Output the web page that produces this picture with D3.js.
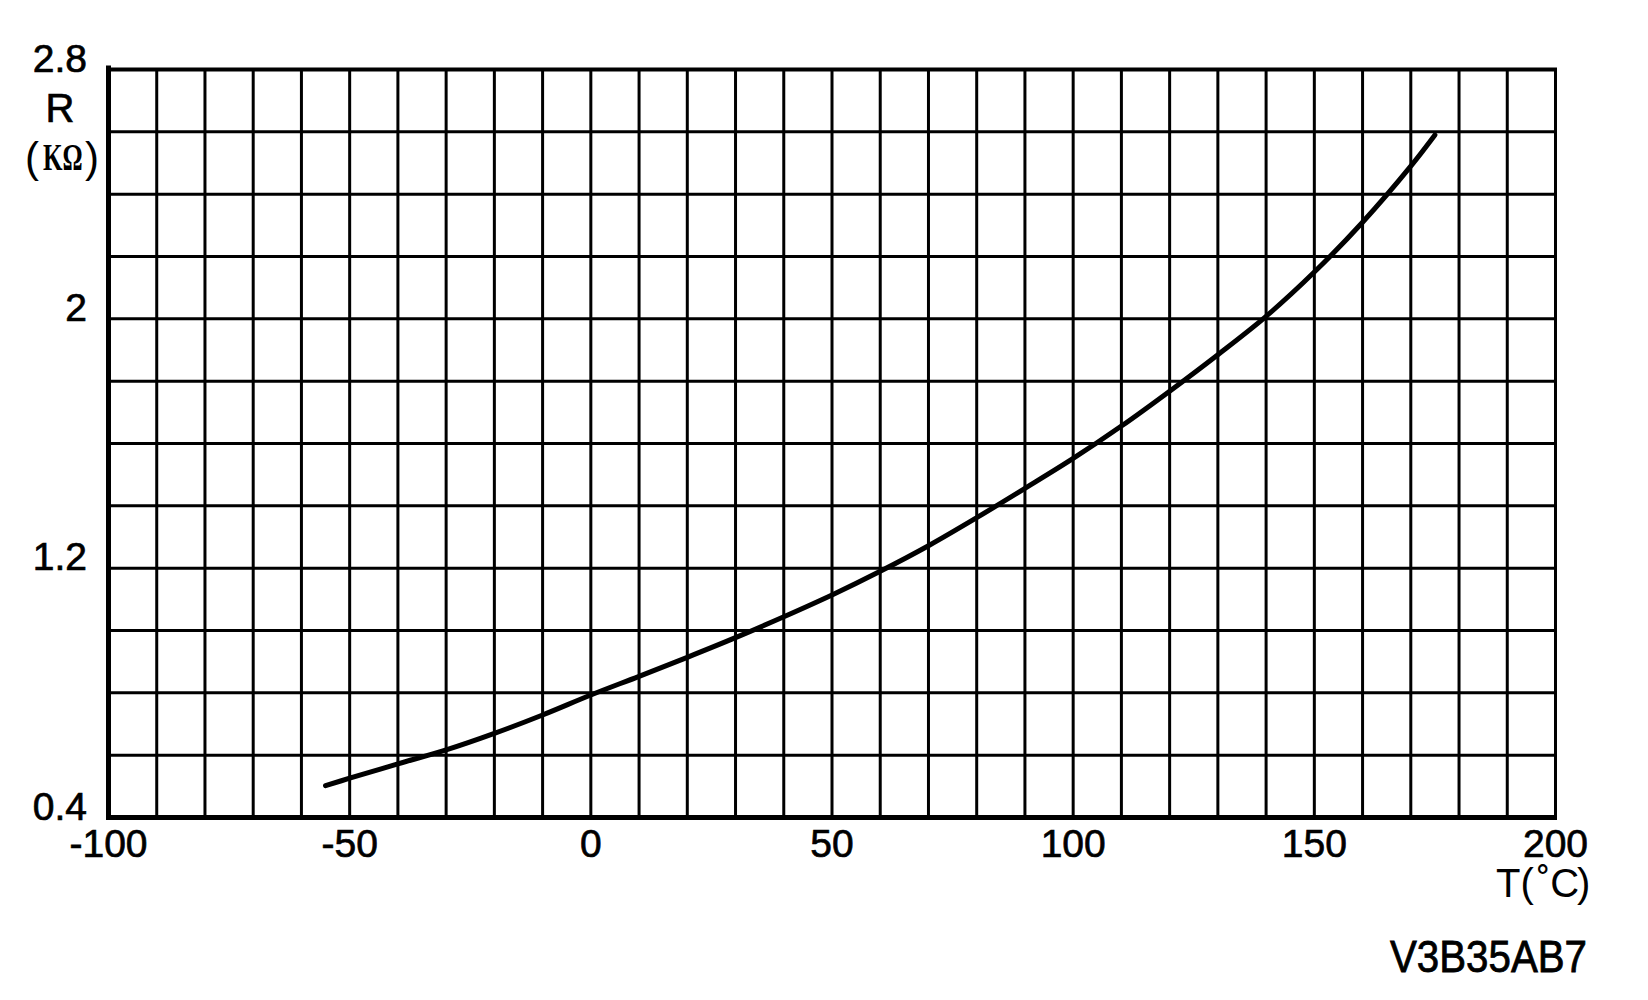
<!DOCTYPE html>
<html>
<head>
<meta charset="utf-8">
<script src="https://cdn.jsdelivr.net/npm/d3@7"></script>
<style>
  html, body { margin: 0; padding: 0; background: #fff; }
  svg { display: block; }
  text { fill: #000; }
</style>
</head>
<body>
<svg id="chart" width="1648" height="1000" font-family="'Liberation Sans', Arial, sans-serif"></svg>
<script>
// Data (temperature °C vs resistance kΩ)
const temps = [-55, -50, -40, -30, -20, -10, 0, 10, 20, 30, 40, 50, 60, 70, 80, 90, 100, 110, 120, 130, 140, 150, 160, 170, 175];
const resist = [0.502, 0.526, 0.572, 0.617, 0.670, 0.729, 0.793, 0.853, 0.914, 0.977, 1.044, 1.114, 1.19, 1.272, 1.362, 1.456, 1.552, 1.656, 1.768, 1.885, 2.008, 2.15, 2.31, 2.49, 2.59];
const xTickLabels = [-100, -50, 0, 50, 100, 150, 200];
const yTickLabels = [0.4, 1.2, 2, 2.8];
const xDomain = [-100, 200];
const yDomain = [0.4, 2.8];
const xGridStep = 10;
const yGridStep = 0.2;
const code = "V3B35AB7";

const svg = d3.select("#chart");
const pL = 108.5, pR = 1555.5, pT = 69.5, pB = 817.5;

const x = d3.scaleLinear().domain(xDomain).range([pL, pR]);
const y = d3.scaleLinear().domain(yDomain).range([pB, pT]);

const xGrid = d3.range(xDomain[0], xDomain[1] + 0.001, xGridStep);
const yGrid = d3.range(0, 13).map(i => yDomain[0] + i * yGridStep);

// grid
svg.append("g").selectAll("line").data(xGrid).join("line")
  .attr("x1", d => x(d)).attr("x2", d => x(d))
  .attr("y1", pT).attr("y2", pB)
  .attr("stroke", "#000").attr("stroke-width", 3);
svg.append("g").selectAll("line").data(yGrid).join("line")
  .attr("x1", pL).attr("x2", pR)
  .attr("y1", d => y(d)).attr("y2", d => y(d))
  .attr("stroke", "#000").attr("stroke-width", 3);

// heavier axes
svg.append("line").attr("x1", pL).attr("x2", pL).attr("y1", pT - 4).attr("y2", pB + 2.5)
  .attr("stroke", "#000").attr("stroke-width", 5);
svg.append("line").attr("x1", pL - 2.5).attr("x2", pR + 1.5).attr("y1", pB).attr("y2", pB)
  .attr("stroke", "#000").attr("stroke-width", 5);
svg.append("line").attr("x1", pL).attr("x2", pR + 1.5).attr("y1", pT).attr("y2", pT)
  .attr("stroke", "#000").attr("stroke-width", 4);

// curve
const line = d3.line().x((d, i) => x(temps[i])).y(d => y(d)).curve(d3.curveCatmullRom.alpha(0.5));
svg.append("path").attr("d", line(resist))
  .attr("fill", "none").attr("stroke", "#000").attr("stroke-width", 5)
  .attr("stroke-linecap", "round");

// x tick labels
svg.append("g").selectAll("text").data(xTickLabels).join("text")
  .attr("x", d => x(d)).attr("y", 857)
  .attr("text-anchor", "middle").attr("font-size", 39)
  .attr("stroke", "#000").attr("stroke-width", 0.7)
  .text(d => d);

// y tick labels
svg.append("g").selectAll("text").data(yTickLabels).join("text")
  .attr("x", 87).attr("y", d => y(d) + 2)
  .attr("text-anchor", "end").attr("font-size", 39)
  .attr("stroke", "#000").attr("stroke-width", 0.7)
  .text(d => d);

// y axis title
svg.append("text").attr("x", 60).attr("y", 122).attr("text-anchor", "middle")
  .attr("font-size", 40).attr("stroke", "#000").attr("stroke-width", 0.7).text("R");
svg.append("text").attr("x", 25).attr("y", 172).attr("font-size", 42).text("(");
svg.append("g").attr("transform", "translate(43,170) scale(0.68,1)")
  .append("text").attr("x", 0).attr("y", 0)
  .attr("font-family", "'Liberation Serif', serif").attr("font-weight", "bold")
  .attr("font-size", 37).text("KΩ");
svg.append("text").attr("x", 85).attr("y", 172).attr("font-size", 42).text(")");

// x axis title
const xt = svg.append("text").attr("y", 897).attr("font-size", 40);
xt.append("tspan").attr("x", 1496).text("T(");
xt.append("tspan").attr("x", 1537).text("˚C");
xt.append("tspan").attr("x", 1577).text(")");

// code
svg.append("text").attr("x", 1587).attr("y", 972).attr("text-anchor", "end")
  .attr("font-size", 44).attr("textLength", 197).attr("lengthAdjust", "spacingAndGlyphs")
  .attr("stroke", "#000").attr("stroke-width", 0.8)
  .text(code);
</script>
</body>
</html>
